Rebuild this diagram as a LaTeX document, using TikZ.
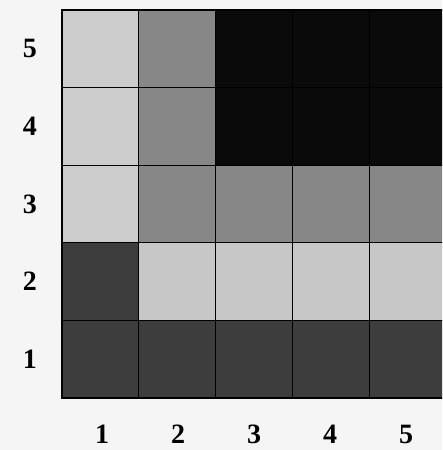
\documentclass[tikz,border=0pt]{standalone}
\usepackage{fontspec}
\setmainfont{Liberation Serif}
\definecolor{pale}{gray}{0.80}
\definecolor{light}{gray}{0.78}
\definecolor{mid}{gray}{0.53}
\definecolor{dark}{gray}{0.24}
\definecolor{ink}{gray}{0.04}
\tikzset{
    lab/.style={font=\fontsize{28}{30}\selectfont\bfseries, inner sep=0pt}
}
\begin{document}
\begin{tikzpicture}[x=1pt,y=1pt]
    \useasboundingbox (0,0) rectangle (442,450);
    \fill[white!96!black] (0,0) rectangle (442,450);
    \begin{scope}
        \clip (0,0) rectangle (442,450);
        % cells: column/row/colour
        \foreach \c/\r/\g in {1/1/dark, 2/1/dark, 3/1/dark, 4/1/dark, 5/1/dark,
            1/2/dark, 2/2/light, 3/2/light, 4/2/light, 5/2/light,
            1/3/pale, 2/3/mid, 3/3/mid, 4/3/mid, 5/3/mid,
            1/4/pale, 2/4/mid, 3/4/ink, 4/4/ink, 5/4/ink,
            1/5/pale, 2/5/mid, 3/5/ink, 4/5/ink, 5/5/ink}
        {
            \fill[\g] ({62+76.8*(\c-1)},{52+77.6*(\r-1)}) rectangle ({62+76.8*\c},{52+77.6*\r});
        }
        \foreach \i in {1,...,4}
        {
            \draw[line width=1.3pt] ({62+76.8*\i},52)--({62+76.8*\i},440);
            \draw[line width=1.3pt] (62,{52+77.6*\i})--(446,{52+77.6*\i});
        }
        \draw[line width=1.8pt] (446,440)--(62,440)--(62,52)--(446,52);
    \end{scope}
    \foreach \i in {1,...,5}
    {
        \node[lab] (r\i) at (30,{52+77.6*(\i-0.5)}) {\i};
        \node[lab] (c\i) at ({64+76*(\i-0.5)},16) {\i};
    }
\end{tikzpicture}
\end{document}
